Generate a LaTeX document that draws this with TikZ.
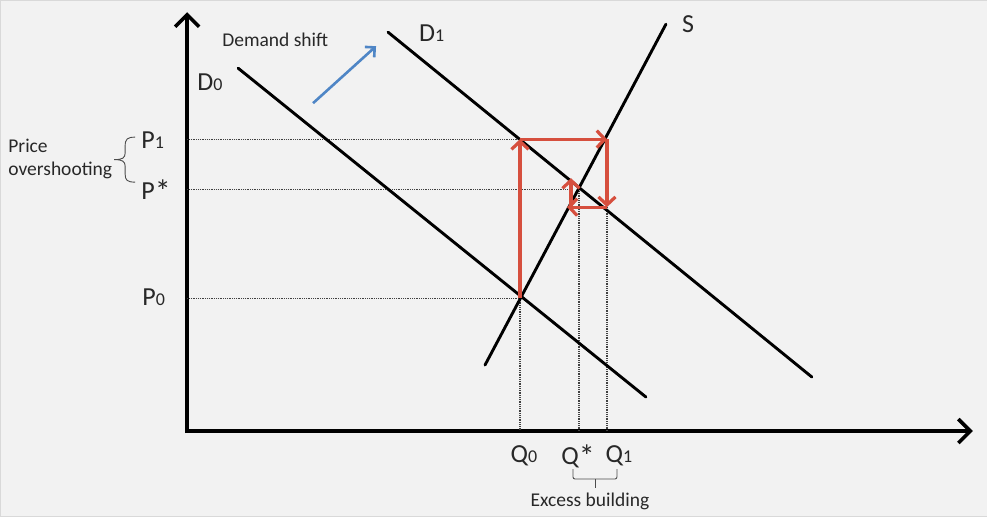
\documentclass[tikz,border=0pt]{standalone}
\usepackage{fontspec}
\setmainfont{Carlito}
\usetikzlibrary{arrows.meta}
\definecolor{bgc}{RGB}{242,242,242}
\definecolor{redc}{RGB}{214,79,62}
\definecolor{bluec}{RGB}{79,134,198}
\definecolor{txtc}{RGB}{40,40,40}
\newcommand\smalldig[1]{{\fontsize{18}{18}\selectfont #1}}
\newcommand\bigast{\raisebox{-3pt}{\fontsize{32}{32}\selectfont *}}
\begin{document}
\begin{tikzpicture}[x=1pt,y=-1pt,
  curve/.style={line width=2.9pt, line cap=round},
  axis/.style={line width=3.6pt, -{Straight Barb[length=12pt,width=24pt]}},
  guide/.style={line width=1.1pt, dash pattern=on 1pt off 0.8pt, black!75},
  move/.style={draw=redc, line width=3.2pt, -{Straight Barb[length=8pt,width=17pt]}},
  shiftarrow/.style={draw=bluec, line width=2.6pt, -{Straight Barb[length=7pt,width=14pt]}},
  lab/.style={font=\fontsize{26}{26}\selectfont, inner sep=0pt, text=txtc},
  note/.style={font=\fontsize{19.5}{23}\selectfont, inner sep=0pt, text=txtc}]
\fill[bgc, draw=black!15] (0,0) rectangle (987,516);
\useasboundingbox (0,0) rectangle (987,516);
% axes
\coordinate (Ytop) at (187,12);
\coordinate (Xend) at (973,431);
\coordinate (Oy) at (187,433);
\coordinate (Ox) at (185,431);
\draw[axis] (Oy) -- (Ytop);
\draw[axis] (Ox) -- (Xend);
% key points
\coordinate (yP1) at (187,139);
\coordinate (yPs) at (187,189);
\coordinate (yP0) at (187,298);
\coordinate (E0) at (520,298);
\coordinate (A) at (520,139);
\coordinate (B) at (607,139);
\coordinate (C) at (607,207);
\coordinate (Dp) at (567,207);
\coordinate (Db) at (571,207);
\coordinate (Ep) at (571,178);
\coordinate (Es) at (572,189);
\coordinate (xQ0) at (520,431);
\coordinate (Qs) at (579,189);
\coordinate (xQs) at (579,431);
\coordinate (xQ1) at (607,431);
% guides
\draw[guide] (yP1) -- (A);
\draw[guide] (yPs) -- (Es);
\draw[guide] (yP0) -- (E0);
\draw[guide] (E0) -- (xQ0);
\draw[guide] (Qs) -- (xQs);
\draw[guide] (C) -- (xQ1);
% curves
\coordinate (D0a) at (238,68);
\coordinate (D0b) at (646,397);
\coordinate (D1a) at (388,32);
\coordinate (D1b) at (812,377);
\coordinate (Sa) at (485,365);
\coordinate (Sb) at (666,24);
\draw[curve] (D0a) -- (D0b);
\draw[curve] (D1a) -- (D1b);
\draw[curve] (Sa) -- (Sb);
% red adjustment path
\draw[move] (E0) -- (A);
\draw[move] (A) -- (B);
\draw[move] (B) -- (C);
\draw[move] (C) -- (Dp);
\draw[move] (Db) -- (Ep);
% demand shift arrow
\coordinate (sh0) at (313,103);
\coordinate (sh1) at (376,46);
\draw[shiftarrow] (sh0) -- (sh1);
\node[note, anchor=west] (dshift) at (222,40) {Demand shift};
% curve labels
\node[lab, anchor=west] (lD0) at (197,82) {D\smalldig{0}};
\node[lab, anchor=west] (lD1) at (419,33) {D\smalldig{1}};
\node[lab, anchor=west] (lS) at (682,24) {S};
% price labels
\node[lab, anchor=west] (lP1) at (141,140) {P\smalldig{1}};
\node[lab, anchor=west] (lPs) at (141,191) {P\bigast};
\node[lab, anchor=west] (lP0) at (142,297) {P\smalldig{0}};
% quantity labels
\node[lab] (lQ0) at (524,456) {Q\smalldig{0}};
\node[lab] (lQs) at (578,456) {Q\bigast};
\node[lab] (lQ1) at (619,456) {Q\smalldig{1}};
% price overshooting
\node[note, anchor=west, align=left] (po) at (8,159) {Price\\overshooting};
\draw[line width=0.9pt, black!70] (135,137) .. controls (127,137) and (125,139) .. (125,146) -- (125,153) .. controls (125,158) and (122,159.5) .. (114,159.5) .. controls (122,159.5) and (125,161) .. (125,166) -- (125,174) .. controls (125,180) and (127,182) .. (135,182);
% excess building
\draw[line width=0.9pt, black!70, rounded corners=2pt] (573,469) -- (573,479) -- (617,479) -- (617,469);
\draw[line width=0.9pt, black!70] (595,479) -- (595,488);
\node[note] (eb) at (590,501) {Excess building};
\end{tikzpicture}
\end{document}
